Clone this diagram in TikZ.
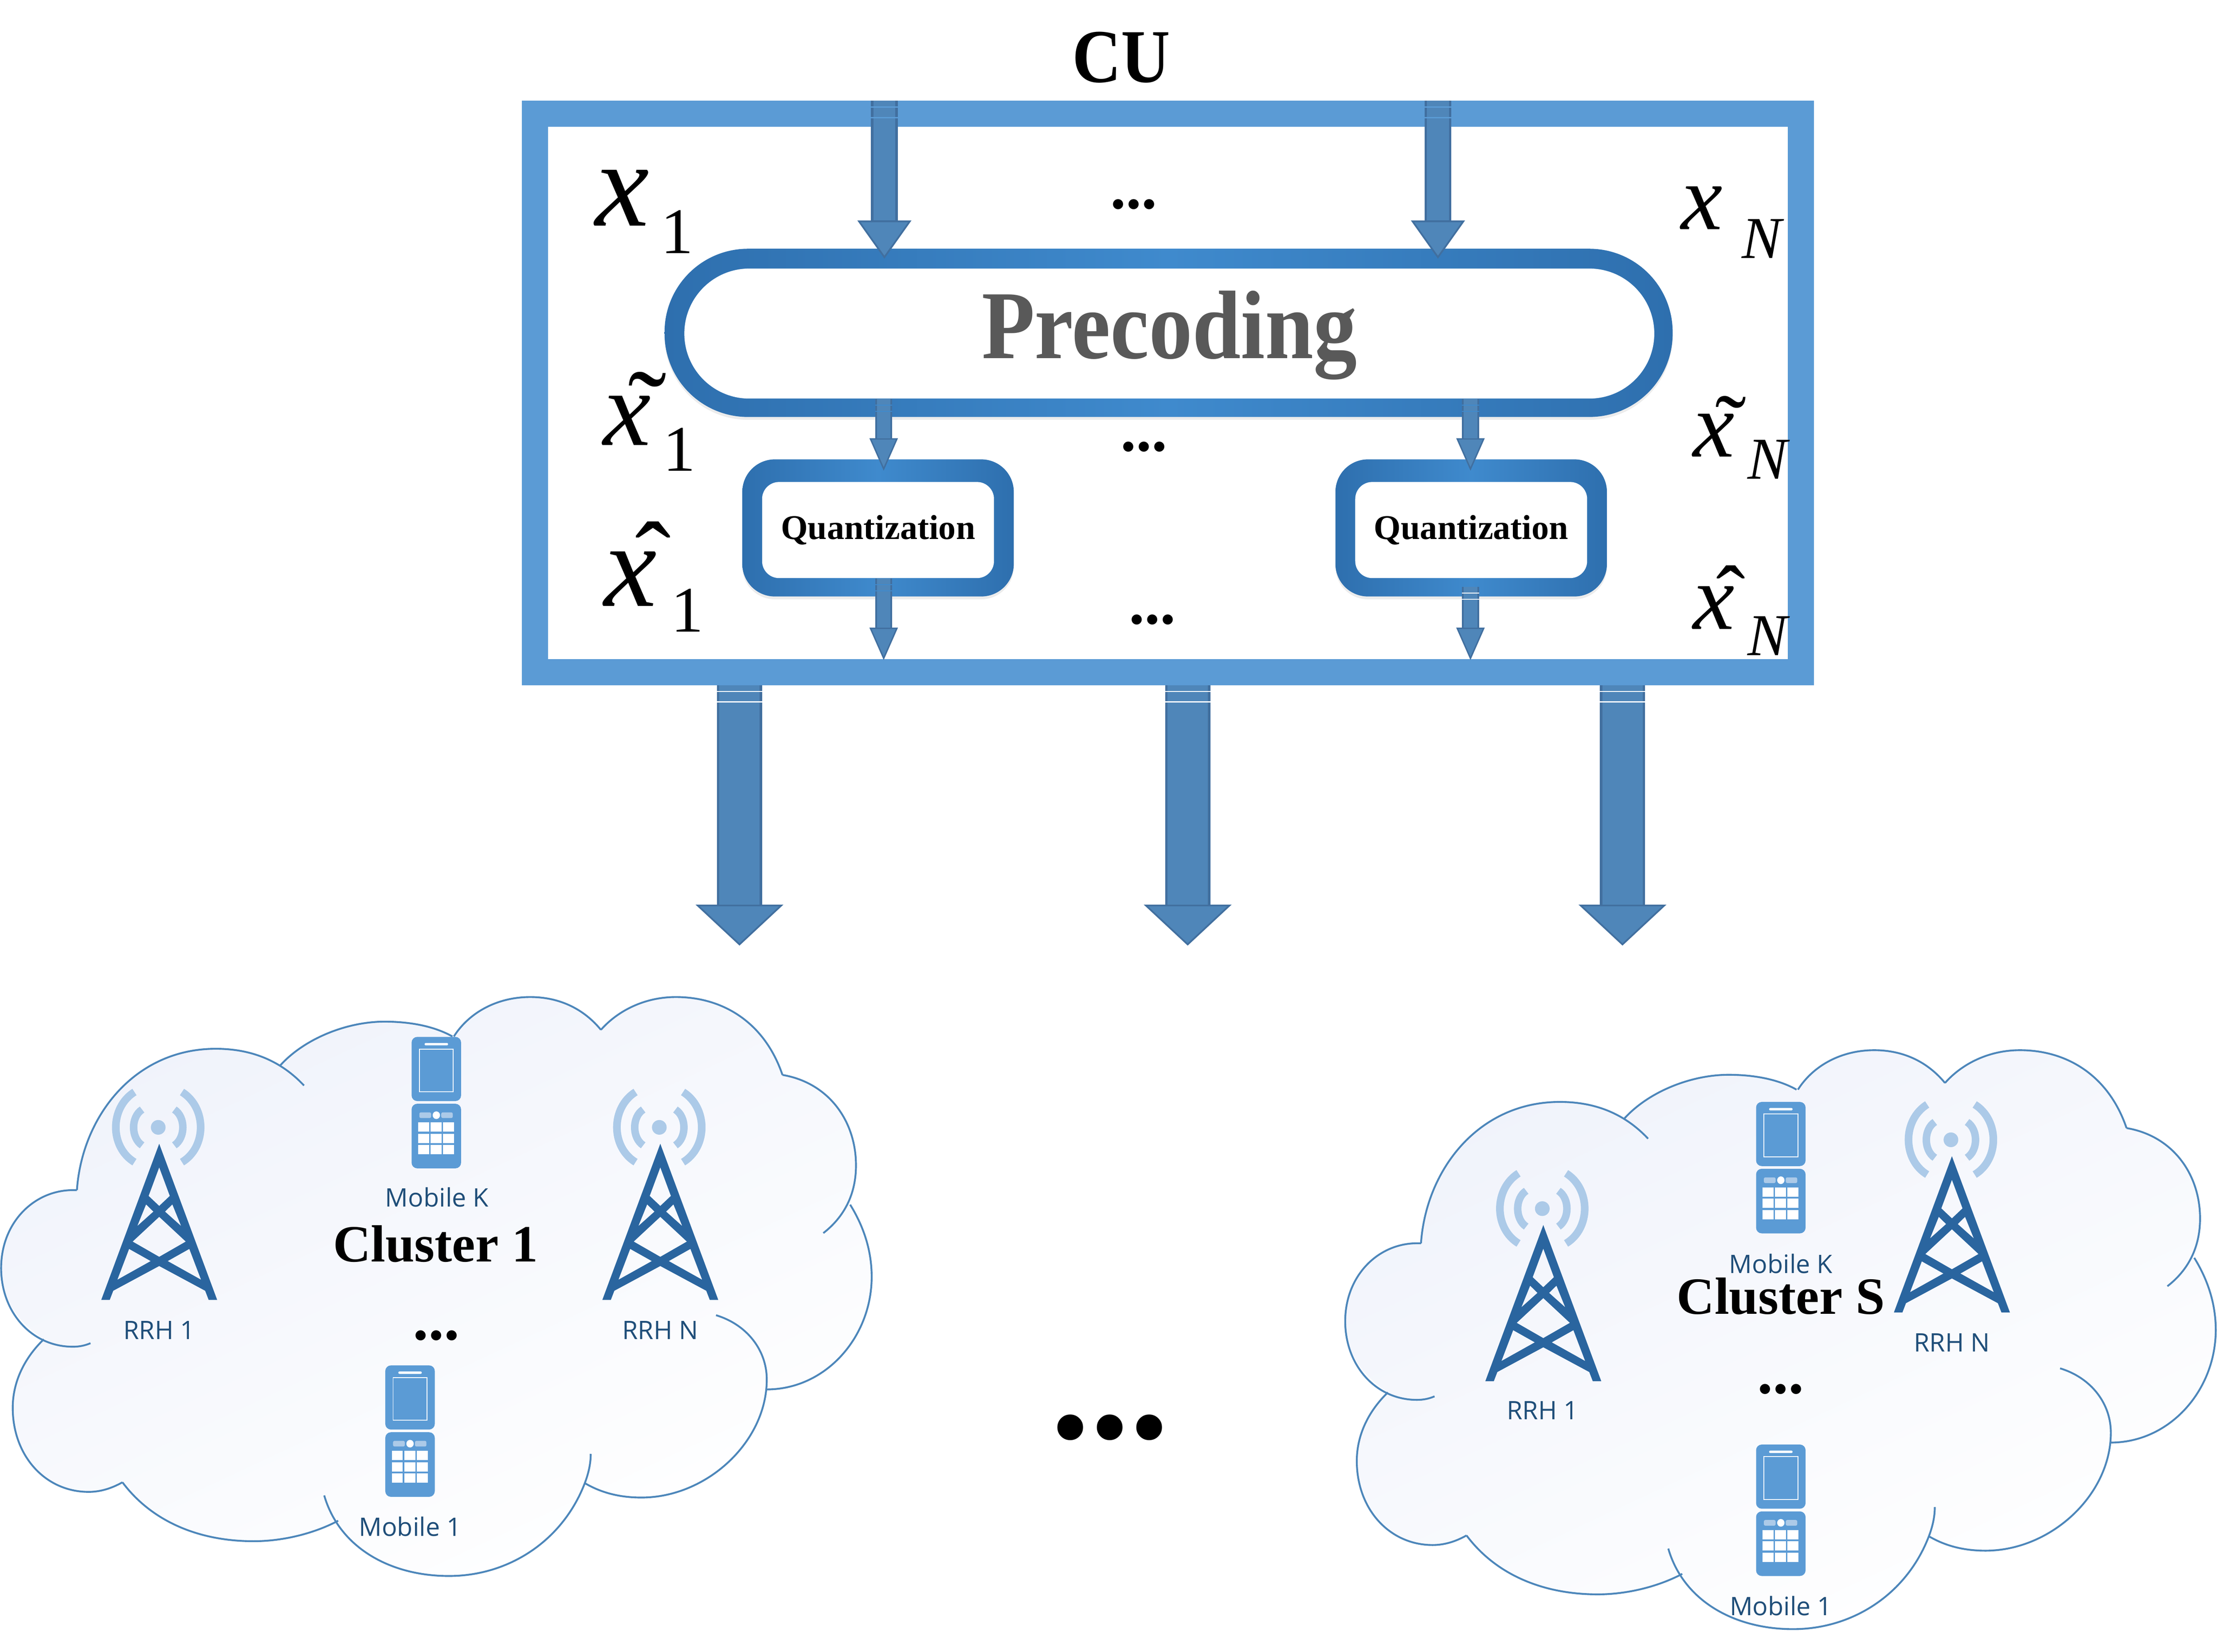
\documentclass[tikz,border=0pt]{standalone}
\usepackage{xcolor}
\usepackage{fontspec}
\setmainfont{Liberation Serif}
\newfontfamily\labelfont{Open Sans}
\usetikzlibrary{arrows.meta,positioning,calc,shadows}

\definecolor{framecol}{HTML}{5B9BD5}
\definecolor{arrowcol}{HTML}{4F86B9}
\definecolor{arrowedge}{HTML}{416F9F}
\definecolor{ringdark}{HTML}{2E6FAE}
\definecolor{ringlight}{HTML}{3F8ACD}
\definecolor{towercol}{HTML}{2A659F}
\definecolor{signalcol}{HTML}{ACCAE8}
\definecolor{cloudcol}{HTML}{4C86BA}
\definecolor{cloudtint}{HTML}{F0F3FB}
\definecolor{textcol}{HTML}{1F4E79}

\tikzset{
    softshadow/.style={drop shadow={shadow xshift=0pt, shadow yshift=-2pt, opacity=0.15}},
    framebox/.style={rectangle, draw=framecol, fill=white, line width=18.5pt, inner sep=0pt, softshadow},
    ring/.style={rectangle, inner sep=0pt, left color=ringdark, right color=ringdark, middle color=ringlight, softshadow},
    hole/.style={rectangle, fill=white, inner sep=0pt},
    toparrow/.style={arrowedge, line width=19pt, -{Triangle[length=27pt, width=38pt, line width=1.2pt, fill=arrowcol]},
        postaction={draw=arrowcol, line width=15.5pt, -, shorten >=27pt}},
    midarrow/.style={arrowedge, line width=12pt, -{Triangle[length=23pt, width=20pt, line width=1pt, fill=arrowcol]},
        postaction={draw=arrowcol, line width=9.5pt, -, shorten >=23pt}},
    bigarrow/.style={arrowedge, line width=32pt, -{Triangle[length=29pt, width=62pt, line width=1.2pt, fill=arrowcol]},
        postaction={draw=arrowcol, line width=28.5pt, -, shorten >=29pt}},
    stripe/.style={line width=#1, dash pattern=on 0.9pt off 6.6pt},
    thinstripe/.style={line width=#1, dash pattern=on 0.6pt off 4pt},
    title/.style={inner sep=0pt, font=\fontsize{48}{52}\selectfont\bfseries},
    dots/.style={inner sep=0pt, font=\fontsize{44}{48}\selectfont\bfseries},
    sublabel/.style={inner sep=0pt, text=textcol, font=\fontsize{18}{20}\selectfont\labelfont},
    clusterlabel/.style={inner sep=0pt, font=\fontsize{37}{40}\selectfont\bfseries},
    bigvar/.style={inner sep=0pt, font=\fontsize{#1}{90}\selectfont\itshape},
    smallvar/.style={inner sep=0pt, font=\fontsize{66}{72}\selectfont\itshape},
    bigsub/.style={inner sep=0pt, font=\fontsize{46}{50}\selectfont},
    smallsub/.style={inner sep=0pt, font=\fontsize{42}{46}\selectfont\itshape},
    accent/.style={inner sep=0pt, anchor=north, font=\fontsize{#1}{72}\selectfont},
    lobe/.style={draw=cloudcol, line width=1.3pt},
    % mast with its signal, origin at the tip
    tower/.pic={
        \fill[towercol, even odd rule] (0,0) -- (41,110.5) -- (35,110.5) -- (32.5,104) -- (0,86.5) -- (-32.5,104) -- (-35,110.5) -- (-41,110.5) -- cycle
            (0,16.7) -- (7.5,36.9) -- (0,44) -- (-7.5,36.9) -- cycle
            (9.3,42.9) -- (15.5,58.2) -- (4.1,48) -- cycle
            (-9.3,42.9) -- (-15.5,58.2) -- (-4.1,48) -- cycle
            (0,51.7) -- (18.8,69.2) -- (0,80) -- (-18.8,69.2) -- cycle
            (21.3,74.4) -- (29.6,96.2) -- (6,83) -- cycle
            (-21.3,74.4) -- (-29.6,96.2) -- (-6,83) -- cycle;
        \fill[signalcol] (-0.7,-11.6) circle (5.2pt);
        \foreach \s in {-1,1} {
            \draw[signalcol, line width=5.3pt, xshift=-0.7pt, yshift=11.6pt] (\s*11.4,-12.6) .. controls (\s*19.4,-7.5) and (\s*19.4,7.5) .. (\s*11.4,12.7);
            \draw[signalcol, line width=5.4pt, xshift=-0.7pt, yshift=11.6pt] (\s*16.8,-25) .. controls (\s*34.4,-14) and (\s*34.4,14) .. (\s*16.8,24.6);
        }
    },
    % flip phone, origin at the middle of its top edge
    phone/.pic={
        \fill[framecol, rounded corners=4pt] (-17.5,0) rectangle (17.5,45.4);
        \fill[framecol, rounded corners=4pt] (-17.5,47.3) rectangle (17.5,93);
        \draw[white, line width=0.6pt] (-12,8.6) rectangle (12,38.8);
        \fill[white, rounded corners=0.8pt] (-8.3,4.3) rectangle (8.3,6);
        \fill[signalcol, rounded corners=1pt] (-12,53.4) rectangle (-3.7,57.4);
        \fill[signalcol, rounded corners=1pt] (3.5,53.4) rectangle (11.6,57.4);
        \fill[white] (0,55.4) ellipse (2.6pt and 2.7pt);
        \foreach \kx in {-12.9,-4.1,4.7} {
            \foreach \ky in {60.4,68.5,76.5} {
                \fill[white] (\kx,\ky) rectangle ++(7.8,6.6);
            }
        }
    },
    skycloud/.pic={
        \shade[top color=cloudtint, bottom color=white, shading angle=25]
            (54.4,842) .. controls (58,790) and (95,742) .. (152.6,742) .. controls (172,742) and (187,746) .. (198,754)
            .. controls (215,735) and (245,722.8) .. (272,722.8) .. controls (290,722.8) and (307,726) .. (320.5,733.3)
            .. controls (332,716) and (352,705.4) .. (375,705.4) .. controls (396,705.4) and (413,714) .. (425,728.6)
            .. controls (437,715) and (456,705.4) .. (478,705.4) .. controls (512,705.4) and (541,724) .. (553.4,760.5)
            .. controls (586,766) and (605.4,793) .. (605.4,824.5) .. controls (605.4,835) and (604,844) .. (601.3,852.3)
            .. controls (611,868) and (616.5,885) .. (616.5,903.3) .. controls (616.5,946) and (584,983) .. (542.3,983)
            .. controls (534,1024) and (500,1059.5) .. (453.6,1059.5) .. controls (438,1059.5) and (425,1056) .. (413.6,1049.3)
            .. controls (398,1090) and (360,1115) .. (317.5,1115) .. controls (284,1115) and (254,1102) .. (239.2,1075.9)
            .. controls (222,1085) and (200,1090.4) .. (179.4,1090.4) .. controls (140,1090.4) and (107,1076) .. (86.6,1048.7)
            .. controls (79,1053) and (71,1055.5) .. (62.7,1055.5) .. controls (32,1055.5) and (9,1030) .. (9,996)
            .. controls (9,978) and (17,961) .. (31,947.5) .. controls (12,935) and (0.8,918) .. (0.8,897.2)
            .. controls (0.8,865) and (24,842) .. (51.6,842) -- cycle;
        \draw[lobe] (54.4,842) .. controls (58,790) and (95,742) .. (152.6,742) .. controls (180,742) and (200,752) .. (215,768);
        \draw[lobe] (198,754) .. controls (215,735) and (245,722.8) .. (272,722.8) .. controls (290,722.8) and (307,726) .. (320,733.3);
        \draw[lobe] (321,733.3) .. controls (332,716) and (352,705.4) .. (375,705.4) .. controls (396,705.4) and (413,714) .. (425,728.6);
        \draw[lobe] (425,728.6) .. controls (437,715) and (456,705.4) .. (478,705.4) .. controls (512,705.4) and (541,724) .. (553.4,760.5);
        \draw[lobe] (553.4,760.5) .. controls (586,766) and (605.4,793) .. (605.4,824.5) .. controls (605.4,845) and (597,861) .. (582.3,872.4);
        \draw[lobe] (601.3,852.3) .. controls (611,868) and (616.5,885) .. (616.5,903.3) .. controls (616.5,946) and (584,983) .. (542.3,983);
        \draw[lobe] (506.4,930.5) .. controls (528,937) and (542.3,955) .. (542.3,976) .. controls (542.3,1020) and (500,1059.5) .. (453.6,1059.5) .. controls (438,1059.5) and (425,1056) .. (413.6,1049.3);
        \draw[lobe] (417.8,1028.6) .. controls (417.8,1036) and (416,1043) .. (413.6,1049.3) .. controls (398,1090) and (360,1115) .. (317.5,1115) .. controls (276,1115) and (240,1095) .. (229.3,1058);
        \draw[lobe] (239.2,1075.9) .. controls (222,1085) and (200,1090.4) .. (179.4,1090.4) .. controls (140,1090.4) and (107,1076) .. (86.6,1048.7);
        \draw[lobe] (86.6,1048.7) .. controls (79,1053) and (71,1055.5) .. (62.7,1055.5) .. controls (32,1055.5) and (9,1030) .. (9,996) .. controls (9,978) and (17,961) .. (31,947.5);
        \draw[lobe] (64,950.3) .. controls (60,952) and (56,952.8) .. (51.6,952.8) .. controls (22,952.8) and (0.8,928) .. (0.8,897.2) .. controls (0.8,865) and (24,842) .. (51.6,842) -- (54.4,842);
    }
}

\begin{document}
\begin{tikzpicture}[x=1pt, y=-1pt]
    \useasboundingbox (0,0) rectangle (1568,1168.7);

    % CU box
    \node[title] (cu) at (793,40.5) {\scalebox{1}[1.12]{CU}};
    \node[framebox, minimum width=895.5pt, minimum height=395pt] (frame) at (826,278) {};

    % Precoding
    \node[ring, rounded corners=59pt, minimum width=713pt, minimum height=119pt] (prering) at (826.5,235.5) {};
    \node[hole, rounded corners=46pt, minimum width=686pt, minimum height=92pt, text=black!65,
        text height=35.2pt, text depth=0pt, font=\fontsize{61.5}{64}\selectfont\bfseries] (precoding) at (827,236) {\scalebox{1}[1.12]{Precoding}};

    % Quantization
    \node[ring, rounded corners=23pt, minimum width=192pt, minimum height=97pt] (quantonering) at (621,373.5) {};
    \node[hole, rounded corners=12pt, minimum width=164pt, minimum height=68pt,
        font=\fontsize{24.5}{27}\selectfont\bfseries] (quantone) at (621,375) {Quantization};
    \node[ring, rounded corners=23pt, minimum width=192pt, minimum height=97pt] (quanttworing) at (1040.5,373.5) {};
    \node[hole, rounded corners=12pt, minimum width=164pt, minimum height=68pt,
        font=\fontsize{24.5}{27}\selectfont\bfseries] (quanttwo) at (1040.5,375) {Quantization};

    % Arrows inside the box
    \coordinate (inone) at (625.5,183);
    \coordinate (intwo) at (1017,183);
    \coordinate (midone) at (625,333);
    \coordinate (midtwo) at (1040,333);
    \coordinate (outone) at (625,467);
    \coordinate (outtwo) at (1040,467);
    \draw[toparrow] (frame.north -| inone) -- (inone);
    \draw[toparrow] (frame.north -| intwo) -- (intwo);
    \draw[framecol, stripe=19pt] ($(frame.north -| inone)+(0,4)$) -- ++(0,9);
    \draw[framecol, stripe=19pt] ($(frame.north -| intwo)+(0,4)$) -- ++(0,9);
    \draw[midarrow] (precoding.south -| midone) -- (midone);
    \draw[midarrow] (precoding.south -| midtwo) -- (midtwo);
    \draw[ringlight, thinstripe=12pt] ($(precoding.south -| midone)+(0,4)$) -- ++(0,6);
    \draw[ringlight, thinstripe=12pt] ($(precoding.south -| midtwo)+(0,4)$) -- ++(0,6);
    \draw[midarrow] (quantone.south -| outone) -- (outone);
    \draw[midarrow] ($(quanttwo.south -| outtwo)+(0,6)$) -- (outtwo);
    \draw[ringlight, thinstripe=12pt] ($(quantone.south -| outone)+(0,4)$) -- ++(0,6);
    \draw[white, thinstripe=12pt] ($(quanttwo.south -| outtwo)+(0,10)$) -- ++(0,6);

    % Signal names
    \node[bigvar=86] (xone) at (440,140) {x};
    \node[bigsub] (xonesub) at (479,164) {1};
    \node[smallvar] (xn) at (1203.5,147) {x};
    \node[smallsub] (xnsub) at (1246,169) {N};
    \node[bigvar=76] (tone) at (443.5,297.5) {x};
    \node[accent=82] (tonemark) at (458,263) {\char"02DC};
    \node[bigsub] (tonesub) at (480.5,318) {1};
    \node[smallvar] (tn) at (1212,308) {x};
    \node[accent=66] (tnmark) at (1224,280) {\char"02DC};
    \node[smallsub] (tnsub) at (1250,325) {N};
    \node[bigvar=84] (hone) at (446,409.5) {x};
    \node[accent=76] (honemark) at (462,369) {\char"02C6};
    \node[bigsub] (honesub) at (486,432) {1};
    \node[smallvar] (hn) at (1212,430) {x};
    \node[accent=62] (hnmark) at (1224,400) {\char"02C6};
    \node[smallsub] (hnsub) at (1250,450) {N};

    \node[dots] (dotstop) at (802,144.5) {...};
    \node[dots] (dotsmid) at (809,316) {...};
    \node[dots] (dotslow) at (815,438.5) {...};

    % Links down to the clusters
    \coordinate (bigone) at (523,669);
    \coordinate (bigtwo) at (840,669);
    \coordinate (bigthree) at (1147.5,669);
    \foreach \target in {bigone,bigtwo,bigthree} {
        \draw[bigarrow] (frame.south -| \target) -- (\target);
        \draw[white, stripe=32pt] ($(frame.south -| \target)+(0,4)$) -- ++(0,9);
    }

    % Cluster 1
    \pic (cloudone) at (0,0) {skycloud};
    \pic (towerone) at (112.6,809.2) {tower};
    \pic (towertwo) at (467,809.2) {tower};
    \pic (phonek) at (308.6,733.6) {phone};
    \pic (phoneone) at (290,966) {phone};
    \node[sublabel] (rrhone) at (112.5,941) {RRH 1};
    \node[sublabel] (rrhn) at (467,941) {RRH N};
    \node[sublabel] (mobk) at (309,847) {Mobile K};
    \node[sublabel] (mobone) at (290,1080) {Mobile 1};
    \node[clusterlabel] (clusterone) at (308,880) {Cluster 1};
    \node[dots] (dotsone) at (308.5,945) {...};

    % Cluster S
    \pic (cloudtwo) at (950.6,37.6) {skycloud};
    \pic (towerthree) at (1091.5,866.7) {tower};
    \pic (towerfour) at (1380.5,818) {tower};
    \pic (phonel) at (1259.5,779.6) {phone};
    \pic (phonetwo) at (1259.5,1022) {phone};
    \node[sublabel] (rrhtwo) at (1091,998) {RRH 1};
    \node[sublabel] (rrhm) at (1380.5,950) {RRH N};
    \node[sublabel] (mobl) at (1259.5,894) {Mobile K};
    \node[sublabel] (mobtwo) at (1259.5,1136) {Mobile 1};
    \node[clusterlabel] (clustertwo) at (1259.5,917) {Cluster S};
    \node[dots] (dotstwo) at (1259.5,983) {...};

    \node[inner sep=0pt, font=\fontsize{112}{116}\selectfont\bfseries] (dotsbig) at (785,1010) {...};

\end{tikzpicture}
\end{document}
